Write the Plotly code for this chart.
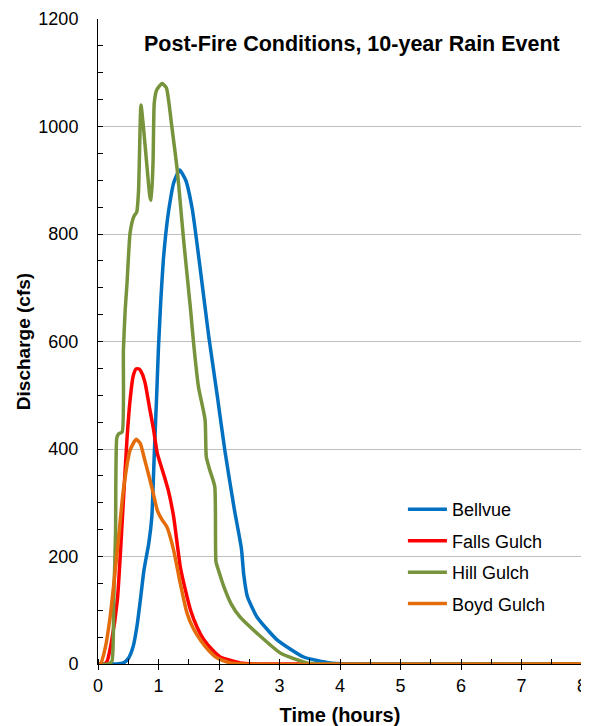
import plotly.graph_objects as go

# Bellvue
bell_t = [0, 0.30, 0.42, 0.50, 0.58, 0.65, 0.70, 0.76, 0.84, 0.89, 0.93, 0.97, 1.00, 1.04, 1.08, 1.12, 1.17, 1.25, 1.35, 1.45, 1.56, 1.69, 1.83, 1.97, 2.10, 2.25, 2.37, 2.41, 2.47, 2.63, 2.96, 3.40, 3.84, 4.30, 8]
bell_q = [0, 0, 2, 10, 32, 75, 119, 175, 225, 274, 390, 500, 590, 680, 752, 800, 845, 895, 919, 900, 845, 735, 610, 500, 395, 290, 215, 165, 125, 87, 45, 13, 2, 0, 0]

# Falls Gulch
falls_t = [0, 0.10, 0.15, 0.22, 0.32, 0.42, 0.48, 0.53, 0.58, 0.63, 0.68, 0.73, 0.78, 0.85, 0.92, 0.98, 1.08, 1.16, 1.25, 1.36, 1.45, 1.53, 1.64, 1.75, 1.90, 2.02, 2.35, 2.60, 8]
falls_q = [0, 0, 5, 40, 119, 305, 420, 491, 535, 549, 549, 540, 522, 478, 435, 392, 355, 324, 274, 181, 135, 100, 68, 45, 25, 13, 2, 0, 0]

# Hill Gulch
hill_t = [0, 0.17, 0.23, 0.26, 0.29, 0.31, 0.34, 0.40, 0.42, 0.45, 0.48, 0.53, 0.59, 0.64, 0.67, 0.71, 0.75, 0.81, 0.86, 0.88, 0.91, 0.93, 0.97, 1.06, 1.13, 1.22, 1.31, 1.36, 1.42, 1.53, 1.58, 1.66, 1.77, 1.79, 1.85, 1.93, 1.95, 1.99, 2.08, 2.20, 2.35, 2.63, 3.02, 3.46, 4.00, 8]
hill_q = [0, 0, 5, 119, 243, 420, 428, 432, 584, 660, 709, 802, 832, 841, 880, 1040, 1000, 925, 868, 863, 935, 1044, 1068, 1080, 1072, 1000, 919, 858, 783, 659, 597, 516, 454, 385, 360, 330, 190, 175, 144, 112, 87, 57, 20, 2, 0, 0]

# Boyd Gulch
boyd_t = [0, 0.04, 0.12, 0.20, 0.32, 0.42, 0.53, 0.63, 0.70, 0.76, 0.83, 0.90, 0.98, 1.06, 1.14, 1.25, 1.36, 1.47, 1.58, 1.69, 1.83, 1.97, 2.19, 2.40, 8]
boyd_q = [0, 0, 30, 87, 212, 324, 398, 418, 410, 385, 355, 324, 286, 268, 255, 212, 150, 95, 65, 45, 25, 11, 2, 0, 0]

series = [
    ("Bellvue", bell_t, bell_q, "#0070C0"),
    ("Falls Gulch", falls_t, falls_q, "#FF0000"),
    ("Hill Gulch", hill_t, hill_q, "#77933C"),
    ("Boyd Gulch", boyd_t, boyd_q, "#E46C0A"),
]

FONT = "Liberation Sans, Arial, sans-serif"

fig = go.Figure()
for i, (name, t, q, c) in enumerate(series):
    fig.add_trace(go.Scatter(
        x=t, y=q, name=name, mode="lines",
        line=dict(color=c, width=3.5, shape="spline", smoothing=0.5),
        legendgroup=f"g{i}",
    ))

# page body adds an 8px offset, so the figure is 8px smaller than the window
fig.update_layout(
    width=581, height=718,
    margin=dict(l=90, r=7, t=11, b=62),
    plot_bgcolor="white", paper_bgcolor="white",
    font=dict(family=FONT, size=18, color="black"),
    showlegend=True,
    legend=dict(x=0.630, y=0.268, xanchor="left", yanchor="top",
                bgcolor="rgba(0,0,0,0)", font=dict(size=18),
                tracegroupgap=5, itemwidth=39),
    annotations=[dict(
        text="<b>Post-Fire Conditions, 10-year Rain Event</b>",
        x=0.525, y=0.961, xref="paper", yref="paper",
        xanchor="center", yanchor="middle", showarrow=False,
        font=dict(size=21.5, family=FONT, color="black"),
    )],
)

fig.update_xaxes(
    range=[0, 8], dtick=1, tick0=0, automargin=False,
    showline=True, linecolor="black", linewidth=1,
    ticks="outside", ticklen=5, tickcolor="black",
    minor=dict(dtick=0.5, ticks="inside", ticklen=5, tickcolor="black"),
    showgrid=False, zeroline=False,
    title=dict(text="<b>Time (hours)</b>", font=dict(size=20), standoff=14),
    tickfont=dict(size=18),
)
fig.update_yaxes(
    range=[0, 1200], dtick=200, tick0=0, automargin=False,
    showline=True, linecolor="black", linewidth=1,
    ticks="inside", ticklen=5, tickcolor="black",
    minor=dict(dtick=50, ticks="inside", ticklen=5, tickcolor="black"),
    showgrid=True, gridcolor="#BFBFBF", gridwidth=1, zeroline=False,
    title=dict(text="<b>Discharge (cfs)</b>", font=dict(size=19), standoff=2),
    tickfont=dict(size=18), ticklabelstandoff=15,
)

fig.write_html("out.html")
